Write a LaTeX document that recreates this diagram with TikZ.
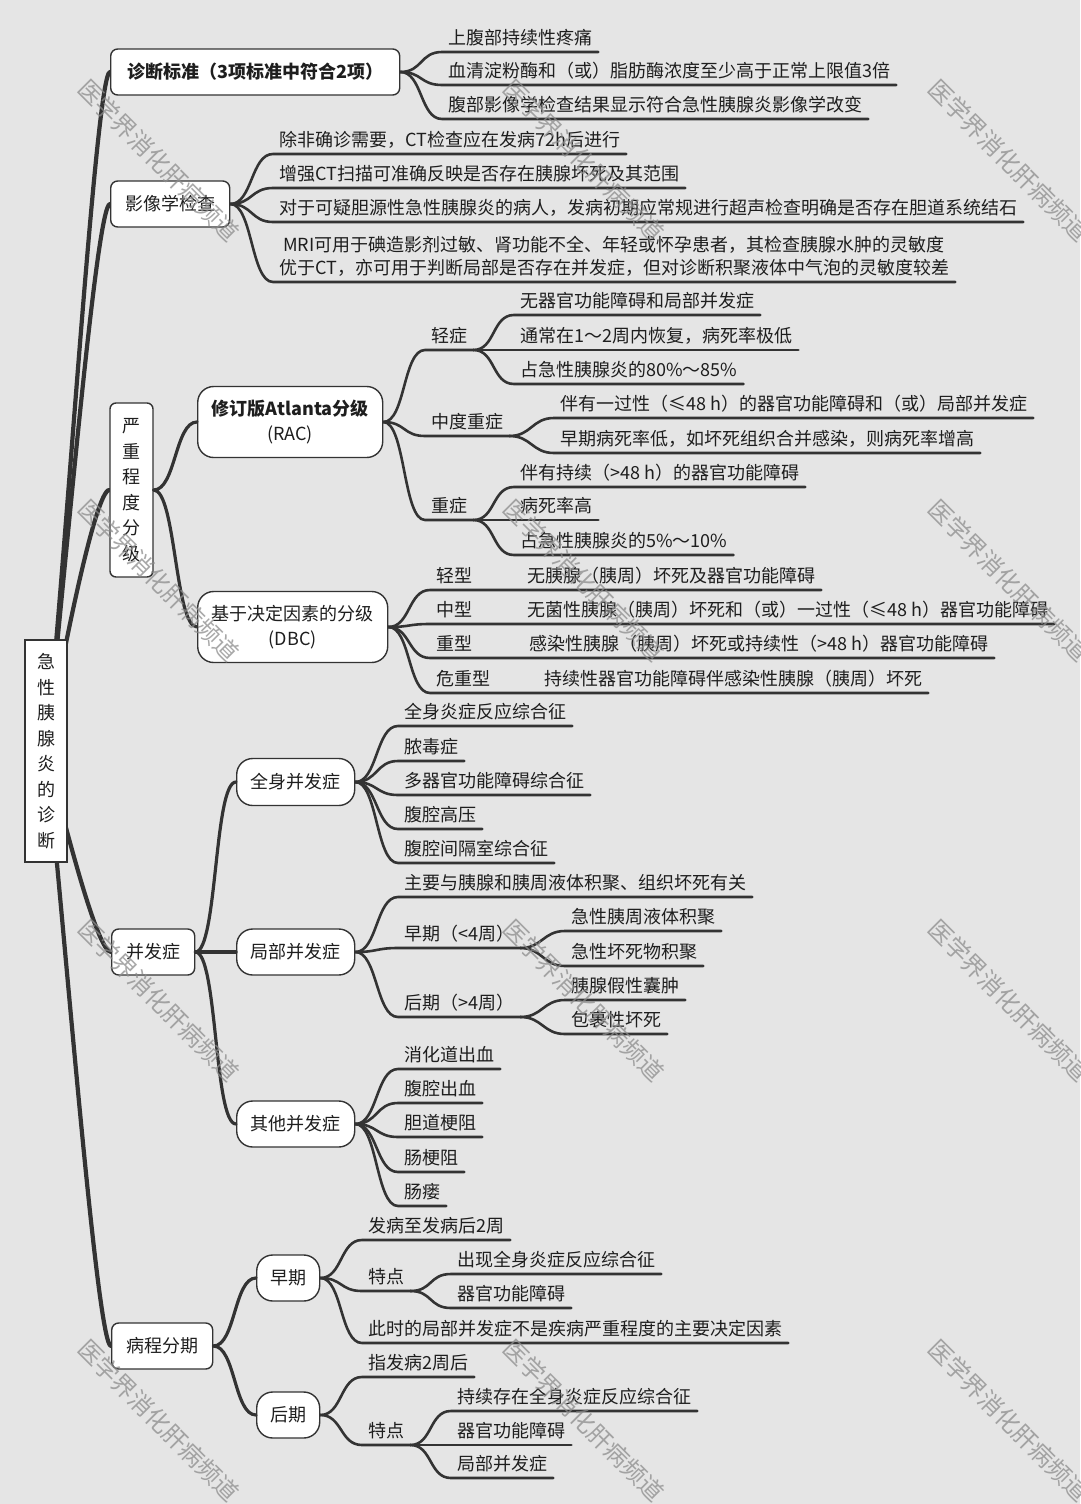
\documentclass[tikz,border=0pt]{standalone}
\usepackage{fontspec}
\setmainfont{Noto Sans CJK SC}

\pgfdeclarelayer{background}
\pgfsetlayers{background,main}

\definecolor{paper}{RGB}{229,229,229}
\definecolor{ink}{RGB}{30,30,30}
\definecolor{lnk}{RGB}{51,51,51}
\definecolor{wmgray}{RGB}{140,140,140}

\tikzset{
  trunk/.style={draw=lnk, line width=4.2pt, line cap=round},
  branch/.style={draw=lnk, line width=3.2pt, line cap=round},
  link/.style={draw=lnk, line width=2.6pt, line cap=round},
  curvy/.style={to path={.. controls +(22,0) and +(-22,0) .. (\tikztotarget)}},
  rootbox/.style={draw=lnk, fill=white, line width=1.4pt, inner sep=0pt, align=center,
    text=ink, font=\fontsize{18}{25.5}\selectfont},
  topic/.style={draw=lnk, fill=white, line width=1.4pt, rounded corners=7pt, inner sep=0pt,
    anchor=west, text=ink, minimum height=46pt, font=\fontsize{18}{22}\selectfont},
  subtopic/.style={topic, rounded corners=16pt, font=\fontsize{18}{25}\selectfont},
  note/.style={anchor=south west, inner xsep=6pt, inner ysep=3pt, text=ink,
    font=\fontsize{18}{22}\selectfont},
  leaf/.style={note, text height=13pt, text depth=4pt},
  stamp/.style={rotate=-45, anchor=west, text=wmgray, opacity=0.75,
    font=\fontsize{24}{24}\selectfont},
}

\begin{document}
\begin{tikzpicture}[x=1pt, y=-1pt]

  % Fix the page to the size of the reference
  \useasboundingbox (0,0) rectangle (1080,1504);

  % Root of the map
  \node[rootbox, minimum width=42pt, minimum height=222pt] (root) at (46,751) {急\\性\\胰\\腺\\炎\\的\\诊\\断};

  % First level topics
  \node[topic, minimum width=289pt, font=\fontsize{18}{22}\selectfont\bfseries] (diag) at (110,72) {诊断标准（3项标准中符合2项）};
  \node[topic, minimum width=119pt] (imaging) at (110,204) {影像学检查};
  \node[rootbox, rounded corners=6pt, minimum width=43pt, minimum height=174pt] (sev) at (131.5,490) {严\\重\\程\\度\\分\\级};
  \node[topic, minimum width=83pt] (comp) at (111,952) {并发症};
  \node[topic, minimum width=101pt] (course) at (111,1346) {病程分期};

  % Background and the thick lines out of the root
  \begin{pgfonlayer}{background}
    \fill[paper] (0,0) rectangle (1080,1504);
    \draw[trunk] (root.center) .. controls +(20,-190) and +(-14,0) .. (diag.west);
    \draw[trunk] (root.center) .. controls +(18,-160) and +(-14,0) .. (imaging.west);
    \draw[trunk] (root.center) .. controls +(15,-90) and +(-14,0) .. (sev.west);
    \draw[trunk] (root.center) .. controls +(18,70) and +(-14,0) .. (comp.west);
    \draw[trunk] (root.center) .. controls +(18,170) and +(-14,0) .. (course.west);
  \end{pgfonlayer}

  % Diagnostic criteria
  \node[leaf] (d1) at (442,52) {上腹部持续性疼痛};
  \node[leaf] (d2) at (442,85) {血清淀粉酶和（或）脂肪酶浓度至少高于正常上限值3倍};
  \node[leaf] (d3) at (442,119) {腹部影像学检查结果显示符合急性胰腺炎影像学改变};
  \draw[link] (diag.east) to[curvy] (d1.south west) -- (d1.south east);
  \draw[link] (diag.east) to[curvy] (d2.south west) -- (d2.south east);
  \draw[link] (diag.east) to[curvy] (d3.south west) -- (d3.south east);

  % Imaging
  \node[leaf] (i1) at (273,154) {除非确诊需要，CT检查应在发病72h后进行};
  \node[leaf] (i2) at (273,188) {增强CT扫描可准确反映是否存在胰腺坏死及其范围};
  \node[leaf] (i3) at (273,222) {对于可疑胆源性急性胰腺炎的病人，发病初期应常规进行超声检查明确是否存在胆道系统结石};
  \node[note, align=left, text depth=4pt, font=\fontsize{18}{23}\selectfont] (i4) at (273,282) {\ MRI可用于碘造影剂过敏、肾功能不全、年轻或怀孕患者，其检查胰腺水肿的灵敏度\\优于CT，亦可用于判断局部是否存在并发症，但对诊断积聚液体中气泡的灵敏度较差};
  \draw[link] (imaging.east) to[curvy] (i1.south west) -- (i1.south east);
  \draw[link] (imaging.east) to[curvy] (i2.south west) -- (i2.south east);
  \draw[link] (imaging.east) to[curvy] (i3.south west) -- (i3.south east);
  \draw[link] (imaging.east) to[curvy] (i4.south west) -- (i4.south east);

  % Severity grading
  \node[subtopic, minimum width=185pt, minimum height=71pt, align=center] (rac) at (197,422) {{\bfseries 修订版Atlanta分级}\\(RAC)};
  \node[subtopic, minimum width=190pt, minimum height=71pt, align=center] (dbc) at (197,627) {基于决定因素的分级\\(DBC)};
  \draw[branch] (sev.east) to[curvy] (rac.west);
  \draw[branch] (sev.east) to[curvy] (dbc.west);

  % Revised Atlanta classification
  \node[leaf] (r1) at (425,350) {轻症};
  \node[leaf] (r2) at (425,436) {中度重症};
  \node[leaf] (r3) at (425,520) {重症};
  \draw[link] (rac.east) to[curvy] (r1.south west) -- (r1.south east);
  \draw[link] (rac.east) to[curvy] (r2.south west) -- (r2.south east);
  \draw[link] (rac.east) to[curvy] (r3.south west) -- (r3.south east);

  \node[leaf] (r1a) at (514,315) {无器官功能障碍和局部并发症};
  \node[leaf] (r1b) at (514,350) {通常在1～2周内恢复，病死率极低};
  \node[leaf] (r1c) at (514,384) {占急性胰腺炎的80\%～85\%};
  \draw[link] (r1.south east) to[curvy] (r1a.south west) -- (r1a.south east);
  \draw[link] (r1.south east) -- (r1b.south west) -- (r1b.south east);
  \draw[link] (r1.south east) to[curvy] (r1c.south west) -- (r1c.south east);

  \node[leaf] (r2a) at (554,418) {伴有一过性（≤48 h）的器官功能障碍和（或）局部并发症};
  \node[leaf] (r2b) at (554,453) {早期病死率低，如坏死组织合并感染，则病死率增高};
  \draw[link] (r2.south east) to[curvy] (r2a.south west) -- (r2a.south east);
  \draw[link] (r2.south east) to[curvy] (r2b.south west) -- (r2b.south east);

  \node[leaf] (r3a) at (514,487) {伴有持续（>48 h）的器官功能障碍};
  \node[leaf] (r3b) at (514,520) {病死率高};
  \node[leaf] (r3c) at (514,555) {占急性胰腺炎的5\%～10\%};
  \draw[link] (r3.south east) to[curvy] (r3a.south west) -- (r3a.south east);
  \draw[link] (r3.south east) -- (r3b.south west) -- (r3b.south east);
  \draw[link] (r3.south east) to[curvy] (r3c.south west) -- (r3c.south east);

  % Determinant-based classification
  \node[leaf] (g1) at (430,590) {轻型};
  \node[leaf] (g2) at (430,624) {中型};
  \node[leaf] (g3) at (430,658) {重型};
  \node[leaf] (g4) at (430,693) {危重型};
  \node[leaf] (g1a) at (521,590) {无胰腺（胰周）坏死及器官功能障碍};
  \node[leaf] (g2a) at (521,624) {无菌性胰腺（胰周）坏死和（或）一过性（≤48 h）器官功能障碍};
  \node[leaf] (g3a) at (523,658) {感染性胰腺（胰周）坏死或持续性（>48 h）器官功能障碍};
  \node[leaf] (g4a) at (538,693) {持续性器官功能障碍伴感染性胰腺（胰周）坏死};
  \draw[link] (dbc.east) to[curvy] (g1.south west) -- (g1a.south east);
  \draw[link] (dbc.east) to[curvy] (g2.south west) -- (g2a.south east);
  \draw[link] (dbc.east) to[curvy] (g3.south west) -- (g3a.south east);
  \draw[link] (dbc.east) to[curvy] (g4.south west) -- (g4a.south east);

  % Complications
  \node[subtopic, minimum width=118pt, minimum height=47pt] (whole) at (236,782) {全身并发症};
  \node[subtopic, minimum width=118pt] (local) at (236,952) {局部并发症};
  \node[subtopic, minimum width=118pt] (other) at (236,1124) {其他并发症};
  \draw[branch] (comp.east) to[curvy] (whole.west);
  \draw[branch] (comp.east) -- (local.west);
  \draw[branch] (comp.east) to[curvy] (other.west);

  \node[leaf] (w1) at (398,726) {全身炎症反应综合征};
  \node[leaf] (w2) at (398,761) {脓毒症};
  \node[leaf] (w3) at (398,795) {多器官功能障碍综合征};
  \node[leaf] (w4) at (398,829) {腹腔高压};
  \node[leaf] (w5) at (398,863) {腹腔间隔室综合征};
  \draw[link] (whole.east) to[curvy] (w1.south west) -- (w1.south east);
  \draw[link] (whole.east) to[curvy] (w2.south west) -- (w2.south east);
  \draw[link] (whole.east) to[curvy] (w3.south west) -- (w3.south east);
  \draw[link] (whole.east) to[curvy] (w4.south west) -- (w4.south east);
  \draw[link] (whole.east) to[curvy] (w5.south west) -- (w5.south east);

  \node[leaf] (l1) at (398,897) {主要与胰腺和胰周液体积聚、组织坏死有关};
  \node[leaf] (l2) at (398,948) {早期（<4周）};
  \node[leaf] (l3) at (398,1017) {后期（>4周）};
  \draw[link] (local.east) to[curvy] (l1.south west) -- (l1.south east);
  \draw[link] (local.east) to[curvy] (l2.south west) -- (l2.south east);
  \draw[link] (local.east) to[curvy] (l3.south west) -- (l3.south east);

  \node[leaf] (l2a) at (565,931) {急性胰周液体积聚};
  \node[leaf] (l2b) at (565,966) {急性坏死物积聚};
  \node[leaf] (l3a) at (565,1000) {胰腺假性囊肿};
  \node[leaf] (l3b) at (565,1034) {包裹性坏死};
  \draw[link] (l2.south east) to[curvy] (l2a.south west) -- (l2a.south east);
  \draw[link] (l2.south east) to[curvy] (l2b.south west) -- (l2b.south east);
  \draw[link] (l3.south east) to[curvy] (l3a.south west) -- (l3a.south east);
  \draw[link] (l3.south east) to[curvy] (l3b.south west) -- (l3b.south east);

  \node[leaf] (o1) at (398,1069) {消化道出血};
  \node[leaf] (o2) at (398,1103) {腹腔出血};
  \node[leaf] (o3) at (398,1137) {胆道梗阻};
  \node[leaf] (o4) at (398,1172) {肠梗阻};
  \node[leaf] (o5) at (398,1206) {肠瘘};
  \draw[link] (other.east) to[curvy] (o1.south west) -- (o1.south east);
  \draw[link] (other.east) to[curvy] (o2.south west) -- (o2.south east);
  \draw[link] (other.east) to[curvy] (o3.south west) -- (o3.south east);
  \draw[link] (other.east) to[curvy] (o4.south west) -- (o4.south east);
  \draw[link] (other.east) to[curvy] (o5.south west) -- (o5.south east);

  % Course of the disease
  \node[subtopic, minimum width=63pt] (early) at (256,1278) {早期};
  \node[subtopic, minimum width=63pt] (late) at (256,1415) {后期};
  \draw[branch] (course.east) to[curvy] (early.west);
  \draw[branch] (course.east) to[curvy] (late.west);

  \node[leaf] (e1) at (362,1240) {发病至发病后2周};
  \node[leaf] (e2) at (362,1291) {特点};
  \node[leaf] (e3) at (362,1343) {此时的局部并发症不是疾病严重程度的主要决定因素};
  \node[leaf] (e2a) at (451,1274) {出现全身炎症反应综合征};
  \node[leaf] (e2b) at (451,1308) {器官功能障碍};
  \draw[link] (early.east) to[curvy] (e1.south west) -- (e1.south east);
  \draw[link] (early.east) to[curvy] (e2.south west) -- (e2.south east);
  \draw[link] (early.east) to[curvy] (e3.south west) -- (e3.south east);
  \draw[link] (e2.south east) to[curvy] (e2a.south west) -- (e2a.south east);
  \draw[link] (e2.south east) to[curvy] (e2b.south west) -- (e2b.south east);

  \node[leaf] (a1) at (362,1377) {指发病2周后};
  \node[leaf] (a2) at (362,1445) {特点};
  \node[leaf] (a2a) at (451,1411) {持续存在全身炎症反应综合征};
  \node[leaf] (a2b) at (451,1445) {器官功能障碍};
  \node[leaf] (a2c) at (451,1478) {局部并发症};
  \draw[link] (late.east) to[curvy] (a1.south west) -- (a1.south east);
  \draw[link] (late.east) to[curvy] (a2.south west) -- (a2.south east);
  \draw[link] (a2.south east) to[curvy] (a2a.south west) -- (a2a.south east);
  \draw[link] (a2.south east) -- (a2b.south west) -- (a2b.south east);
  \draw[link] (a2.south east) to[curvy] (a2c.south west) -- (a2c.south east);

  % Watermark
  \node[stamp] (wm1) at (80,82) {医学界消化肝病频道};
  \node[stamp] (wm2) at (505,82) {医学界消化肝病频道};
  \node[stamp] (wm3) at (930,82) {医学界消化肝病频道};
  \node[stamp] (wm4) at (80,502) {医学界消化肝病频道};
  \node[stamp] (wm5) at (505,502) {医学界消化肝病频道};
  \node[stamp] (wm6) at (930,502) {医学界消化肝病频道};
  \node[stamp] (wm7) at (80,922) {医学界消化肝病频道};
  \node[stamp] (wm8) at (505,922) {医学界消化肝病频道};
  \node[stamp] (wm9) at (930,922) {医学界消化肝病频道};
  \node[stamp] (wm10) at (80,1342) {医学界消化肝病频道};
  \node[stamp] (wm11) at (505,1342) {医学界消化肝病频道};
  \node[stamp] (wm12) at (930,1342) {医学界消化肝病频道};

\end{tikzpicture}
\end{document}
